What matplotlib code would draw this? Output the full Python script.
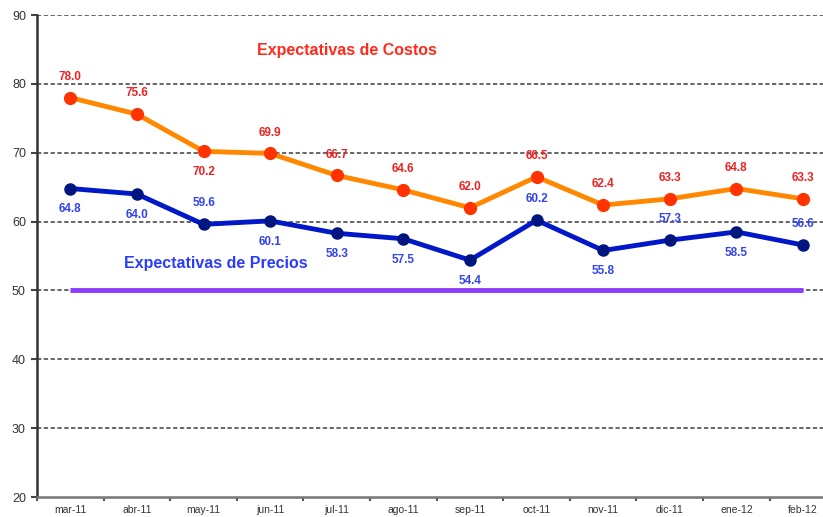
import numpy as np
import matplotlib.pyplot as plt
from matplotlib.ticker import FixedLocator

plt.rcParams['font.family'] = ['Liberation Sans', 'DejaVu Sans']

# datos
meses = ['mar-11', 'abr-11', 'may-11', 'jun-11', 'jul-11', 'ago-11',
         'sep-11', 'oct-11', 'nov-11', 'dic-11', 'ene-12', 'feb-12']
costos = [78.0, 75.6, 70.2, 69.9, 66.7, 64.6, 62.0, 66.5, 62.4, 63.3, 64.8, 63.3]
precios = [64.8, 64.0, 59.6, 60.1, 58.3, 57.5, 54.4, 60.2, 55.8, 57.3, 58.5, 56.6]
umbral = [50] * len(meses)
# posición de la etiqueta: 1 arriba, -1 abajo
pos_costos = [1, 1, -1, 1, 1, 1, 1, 1, 1, 1, 1, 1]
pos_precios = [-1, -1, 1, -1, -1, -1, -1, 1, -1, 1, -1, 1]

x = np.arange(len(meses))

fig = plt.figure(figsize=(8.23, 5.17), dpi=100)
ax = fig.add_axes([37 / 823, 20 / 517, 1 - 37 / 823, 482 / 517])

# rejilla
for v in range(30, 91, 10):
    ax.axhline(v, color='#666666', linestyle=(0, (2.2, 1.3)), linewidth=1.4, zorder=1)

ax.plot(x, umbral, color='#8a3cff', linewidth=3.5, solid_capstyle='butt', zorder=2)
ax.plot(x, costos, color='#ff8800', linewidth=3.5, marker='o', markersize=8.5,
        markerfacecolor='#ff3300', markeredgecolor='#ff3300', zorder=3)
ax.plot(x, precios, color='#0018c8', linewidth=3.5, marker='o', markersize=8,
        markerfacecolor='#001580', markeredgecolor='#001580', zorder=3)

for xi, v, p in zip(x, costos, pos_costos):
    ax.annotate(f'{v:.1f}', (xi, v), xytext=(0, 15 * p), textcoords='offset points',
                ha='center', va='center', fontsize=8.5, fontweight='bold', color='#ee2222')
for xi, v, p in zip(x, precios, pos_precios):
    ax.annotate(f'{v:.1f}', (xi, v), xytext=(0, 15 * p), textcoords='offset points',
                ha='center', va='center', fontsize=8.5, fontweight='bold', color='#3344ee')

ax.text(4.15, 84.9, 'Expectativas de Costos', color='#ff2a1a', fontsize=11.5,
        fontweight='bold', ha='center', va='center')
ax.text(2.19, 53.9, 'Expectativas de Precios', color='#2a3cff', fontsize=11.5,
        fontweight='bold', ha='center', va='center')

ax.set_xlim(-0.5, 11.3)
ax.set_ylim(20, 90)
ax.set_yticks(range(20, 91, 10))
ax.set_xticks(x)
ax.set_xticklabels(meses)
ax.xaxis.set_minor_locator(FixedLocator(np.arange(-0.5, 11.6, 1)))
ax.tick_params(axis='x', which='major', length=0, labelsize=7.5, colors='#333333', pad=6)
ax.tick_params(axis='x', which='minor', length=3, width=1.5, color='#555555')
ax.tick_params(axis='y', length=4, width=1.5, labelsize=9, colors='#333333', pad=4)
ax.tick_params(axis='y', color='#444444')

for s in ['top', 'right']:
    ax.spines[s].set_visible(False)
ax.spines['left'].set_color('#333333')
ax.spines['left'].set_linewidth(1.8)
ax.spines['bottom'].set_color('#777777')
ax.spines['bottom'].set_linewidth(1.8)

fig.savefig('out.png', dpi=100)
